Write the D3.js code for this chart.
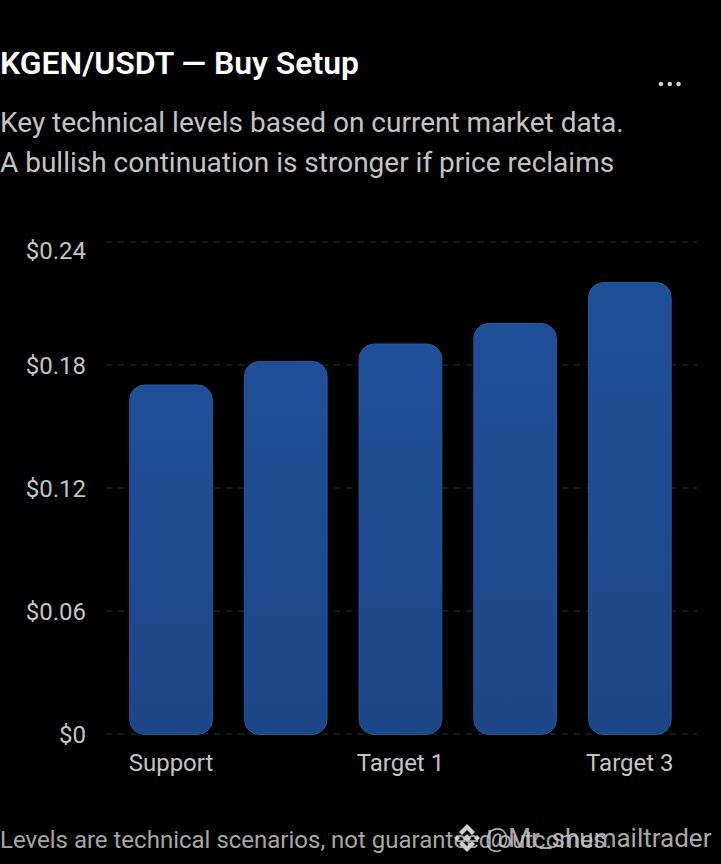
<!DOCTYPE html>
<html><head><meta charset="utf-8">
<script src="https://cdn.jsdelivr.net/npm/d3@7"></script>
<style>html,body{margin:0;padding:0;background:#000}svg{display:block}text{font-family:Roboto,sans-serif}</style>
</head><body><svg id="c" width="721" height="864"></svg>
<script>
const categories = ["Support","Entry","Target 1","Target 2","Target 3"];
const values = [0.1705,0.182,0.1905,0.2005,0.2205];
const shownLabels = ["Support","Target 1","Target 3"];
const yTicks = [0,0.06,0.12,0.18,0.24];
const yLabels = ["$0","$0.06","$0.12","$0.18","$0.24"];
const title = "KGEN/USDT — Buy Setup";
const subtitle = ["Key technical levels based on current market data.","A bullish continuation is stronger if price reclaims"];
const footnote = "Levels are technical scenarios, not guaranteed outcomes.";
const watermark = "@Mr_shumailtrader";

const svg = d3.select("#c");
const defs = svg.append("defs");
const g = defs.append("linearGradient").attr("id","bar").attr("x1",0).attr("x2",0).attr("y1",0).attr("y2",1);
g.append("stop").attr("offset","0%").attr("stop-color","#1f5097");
g.append("stop").attr("offset","100%").attr("stop-color","#1c4686");

svg.append("text").attr("x",0).attr("y",74).attr("fill","#fff").attr("font-size",32).attr("font-weight",600).attr("textLength",359).attr("lengthAdjust","spacingAndGlyphs").text(title);
svg.selectAll(".sub").data(subtitle).join("text").attr("class","sub").attr("x",0).attr("y",(d,i)=>132+i*40)
  .attr("fill","#c4c4c4").attr("font-size",28).text(d=>d);
svg.selectAll(".dot").data([0,1,2]).join("circle").attr("class","dot").attr("cx",d=>661+d*8.8).attr("cy",84).attr("r",2.3).attr("fill","#cfcfcf");

const y = d3.scaleLinear().domain([0,0.24]).range([734,242]);
const x = d3.scaleBand().domain(categories).range([113.7,687.2]).paddingInner(0.27).paddingOuter(0.135);

const gridX = d3.scaleLinear().domain([0,1]).range([106,697]);
svg.selectAll(".grid").data(yTicks).join("line").attr("class","grid")
  .attr("x1",gridX(0)).attr("x2",gridX(1)).attr("y1",d=>y(d)).attr("y2",d=>y(d))
  .attr("stroke","#1c2128").attr("stroke-width",1.5).attr("stroke-dasharray","6 6");

const rr = 15;
svg.selectAll(".bar").data(values).join("path").attr("class","bar")
  .attr("d",(d,i)=>{
    const l=x(categories[i])+.5, r=l+x.bandwidth()-1, t=y(d)+.5, b=y(0)+.5;
    const p=d3.path();
    p.moveTo(l+rr,t);p.arcTo(r,t,r,t+rr,rr);
    p.arcTo(r,b,r-rr,b,rr);
    p.arcTo(l,b,l,b-rr,rr);
    p.arcTo(l,t,l+rr,t,rr);p.closePath();
    return p.toString();
  }).attr("fill","url(#bar)").attr("stroke","#24589f").attr("stroke-width",1);

// the top tick label is pushed down so it stays inside the plot, as in the reference
const labelY = d => Math.max(y(d)+8.5, 258.5);
svg.selectAll(".yl").data(yTicks).join("text").attr("class","yl").attr("x",86).attr("y",labelY)
  .attr("text-anchor","end").attr("fill","#c4c4c4").attr("font-size",24).text((d,i)=>yLabels[i]);
svg.selectAll(".xl").data(shownLabels).join("text").attr("class","xl").attr("x",d=>x(d)+x.bandwidth()/2).attr("y",771)
  .attr("text-anchor","middle").attr("fill","#c4c4c4").attr("font-size",24).text(d=>d);

svg.append("text").attr("x",0).attr("y",848).attr("fill","#a6a6a6").attr("font-size",24).text(footnote);

// watermark logo: top and bottom chevrons, two side diamonds, centre diamond
const logo = svg.append("g").attr("transform","translate(467,838)").attr("fill","#cdcdcd");
const line = d3.line();
const poly = pts => logo.append("path").attr("d", line(pts)+"Z");
poly([[0,-14],[8,-6],[5,-3],[0,-8],[-5,-3],[-8,-6]]);
poly([[0,14],[8,6],[5,3],[0,8],[-5,3],[-8,6]]);
poly([[-10,-3],[-7,0],[-10,3],[-13,0]]);
poly([[10,-3],[13,0],[10,3],[7,0]]);
poly([[0,-4],[4,0],[0,4],[-4,0]]);
svg.append("text").attr("x",485).attr("y",847).attr("fill","#c9c9c9").attr("fill-opacity",.85).attr("font-size",26).text(watermark);
</script></body></html>
